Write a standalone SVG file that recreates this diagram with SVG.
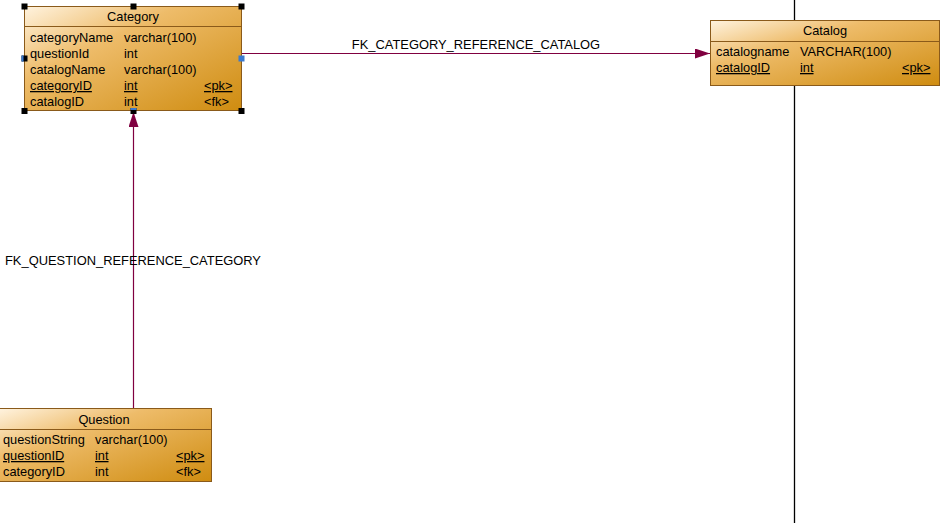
<svg xmlns="http://www.w3.org/2000/svg" width="947" height="523" viewBox="0 0 947 523">
<defs>
<linearGradient id="g" x1="0" y1="0" x2="1" y2="1">
<stop offset="0" stop-color="#fff3df"/>
<stop offset="0.35" stop-color="#eebc6a"/>
<stop offset="1" stop-color="#cf8c10"/>
</linearGradient>
<marker id="arr" viewBox="0 0 15 10" refX="15" refY="5" markerWidth="15" markerHeight="10" markerUnits="userSpaceOnUse" orient="auto">
<path d="M0,0 L15,5 L0,10 Z" fill="#800040"/>
</marker>
<style>
.box{fill:url(#g);stroke:#8a5a1a;stroke-width:1}
.sep{stroke:#8a5a1a;stroke-width:1}
text{font-family:"Liberation Sans",Arial,sans-serif;font-size:12.8px;fill:#000}
.t{text-anchor:middle}
.u{text-decoration:underline}
.c{stroke:#800040;stroke-width:1.2;fill:none}
.lbl{font-size:12.9px}
.h{fill:#000}
.hb{fill:#3a7ad0}
</style>
</defs>
<line x1="794.5" y1="0" x2="794.5" y2="523" stroke="#000" stroke-width="1.3"/>
<g id="connectors">
<line class="c" x1="242" y1="53.5" x2="710" y2="53.5" marker-end="url(#arr)"/>
<text class="lbl t" x="476" y="49">FK_CATEGORY_REFERENCE_CATALOG</text>
<line class="c" x1="133.5" y1="408" x2="133.5" y2="112" marker-end="url(#arr)"/>
<text class="lbl" x="5" y="265">FK_QUESTION_REFERENCE_CATEGORY</text>
</g>
<g id="category">
<rect class="box" x="24.5" y="6.5" width="217" height="104"/>
<line class="sep" x1="24.5" y1="26.5" x2="241.5" y2="26.5"/>
<text class="t" x="133" y="21">Category</text>
<text x="30" y="42">categoryName</text><text x="124" y="42">varchar(100)</text>
<text x="30" y="58">questionId</text><text x="124" y="58">int</text>
<text x="30" y="74">catalogName</text><text x="124" y="74">varchar(100)</text>
<text class="u" x="30" y="90">categoryID</text><text class="u" x="124" y="90">int</text><text class="u" x="204" y="90">&lt;pk&gt;</text>
<text x="30" y="106">catalogID</text><text x="124" y="106">int</text><text x="204" y="106">&lt;fk&gt;</text>
<rect class="h" x="21.5" y="3.5" width="6" height="6"/>
<rect class="h" x="130.5" y="3.5" width="6" height="6"/>
<rect class="h" x="238.5" y="3.5" width="6" height="6"/>
<rect class="h" x="21.5" y="55.5" width="6" height="6"/>
<rect class="hb" x="21.5" y="55.5" width="2" height="6"/>
<rect class="hb" x="238.5" y="55.5" width="6" height="6"/>
<rect class="h" x="21.5" y="108" width="6" height="6"/>
<rect class="h" x="130.5" y="108" width="6" height="6"/>
<rect class="hb" x="130.5" y="108" width="6" height="2"/>
<rect class="h" x="238.5" y="108" width="6" height="6"/>
</g>
<g id="catalog">
<rect class="box" x="710.5" y="20.5" width="229" height="65"/>
<line class="sep" x1="710.5" y1="41.5" x2="939.5" y2="41.5"/>
<text class="t" x="825" y="35">Catalog</text>
<text x="716" y="56">catalogname</text><text x="800" y="56">VARCHAR(100)</text>
<text class="u" x="716" y="72">catalogID</text><text class="u" x="800" y="72">int</text><text class="u" x="902" y="72">&lt;pk&gt;</text>
</g>
<g id="question">
<rect class="box" x="-0.5" y="408.5" width="212" height="73"/>
<line class="sep" x1="0" y1="429.5" x2="211.5" y2="429.5"/>
<text class="t" x="104" y="424">Question</text>
<text x="3" y="444">questionString</text><text x="95" y="444">varchar(100)</text>
<text class="u" x="3" y="460">questionID</text><text class="u" x="95" y="460">int</text><text class="u" x="176" y="460">&lt;pk&gt;</text>
<text x="3" y="476">categoryID</text><text x="95" y="476">int</text><text x="176" y="476">&lt;fk&gt;</text>
</g>
</svg>
